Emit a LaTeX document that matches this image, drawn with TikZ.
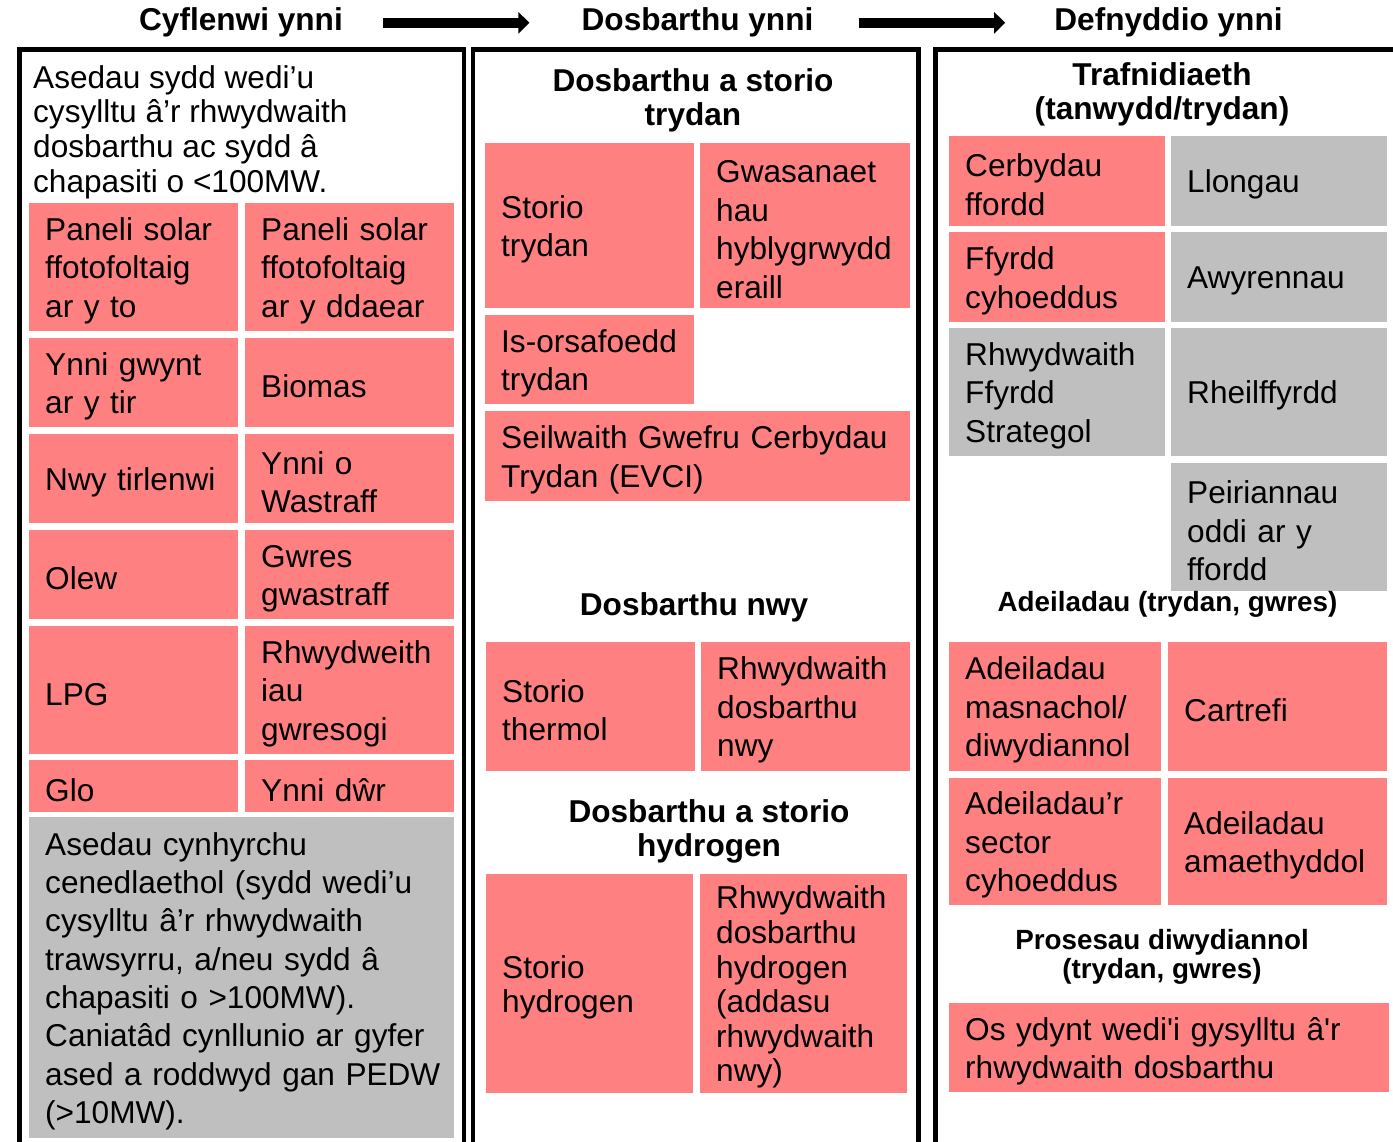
\documentclass[tikz,border=0pt]{standalone}
\usepackage{fontspec}
\setmainfont{Liberation Sans}
\usetikzlibrary{arrows.meta}
\definecolor{pinkc}{RGB}{255,128,128}
\definecolor{grayc}{RGB}{191,191,191}
\newcommand\cellfont{\fontsize{31.6}{38.5}\selectfont}
\newcommand\cellfontb{\fontsize{31.6}{34.6}\selectfont}
\newcommand\introfont{\fontsize{31.6}{34.7}\selectfont}
\newcommand\titlefont{\fontsize{31.6}{34.5}\selectfont\bfseries}
\newcommand\headfont{\fontsize{31.6}{34.5}\selectfont\bfseries}
\newcommand\smallhead{\fontsize{27.8}{29.5}\selectfont\bfseries}
\tikzset{
  sz/.code 2 args={\pgfmathsetmacro\cellw{#1-32}\pgfkeysalso{minimum width=#1pt, minimum height=#2pt, text width=\cellw pt}},
  cell/.style={anchor=north west, inner xsep=16pt, inner ysep=0pt, align=left, font=\cellfont,
    execute at begin node={\rule{0pt}{30pt}}},
  pinkcell/.style={cell, fill=pinkc},
  graycell/.style={cell, fill=grayc},
  title/.style={anchor=base, inner sep=0pt, font=\titlefont},
  heading/.style={anchor=north, inner sep=0pt, align=center, font=\headfont},
  subhead/.style={anchor=north, inner sep=0pt, align=center, font=\smallhead},
  panel/.style={line width=4.5pt, line join=miter, draw=black},
  bigarrow/.style={line width=10pt, -{Triangle[length=11pt,width=21pt]}}
}
\begin{document}
\begin{tikzpicture}[x=1pt,y=-1pt]
\useasboundingbox[fill=white] (0,0) rectangle (1393,1142);

% titles and arrows
\node[title] (t1) at (241,31) {Cyflenwi ynni};
\node[title] (t2) at (697.5,31) {Dosbarthu ynni};
\node[title] (t3) at (1168.5,31) {Defnyddio ynni};
\draw[bigarrow, shorten <=40pt, shorten >=52pt] (t1.east) -- (t2.west);
\draw[bigarrow, shorten <=45pt, shorten >=49pt] (t2.east) -- (t3.west);

% panels
\draw[panel] (19.5,1160) -- (19.5,49.5) -- (464,49.5) -- (464,1160);
\draw[panel] (473,1160) -- (473,49.5) -- (918.5,49.5) -- (918.5,1160);
\draw[panel] (935.5,1160) -- (935.5,49.5) -- (1400,49.5);

% ---------- left panel ----------
\node[anchor=north west, inner sep=0pt, align=left, font=\introfont] (intro) at (33,65)
  {Asedau sydd wedi’u\\cysylltu â’r rhwydwaith\\dosbarthu ac sydd â\\chapasiti o <100MW.};
\node[pinkcell, sz={209}{128}] (pv1) at (29,203) {Paneli solar\\ffotofoltaig\\ar y to};
\node[pinkcell, sz={209}{128}] (pv2) at (245,203) {Paneli solar\\ffotofoltaig\\ar y ddaear};
\node[pinkcell, sz={209}{89}] (gwy) at (29,338) {Ynni gwynt\\ar y tir};
\node[pinkcell, sz={209}{89}] (bio) at (245,338) {Biomas};
\node[pinkcell, sz={209}{89}] (nwy) at (29,434) {Nwy tirlenwi};
\node[pinkcell, sz={209}{89}] (wast) at (245,434) {Ynni o\\Wastraff};
\node[pinkcell, sz={209}{89}] (olew) at (29,530) {Olew};
\node[pinkcell, sz={209}{89}] (gwres) at (245,530) {Gwres\\gwastraff};
\node[pinkcell, sz={209}{128}] (lpg) at (29,626) {LPG};
\node[pinkcell, sz={209}{128}] (rhwy) at (245,626) {Rhwydweith\\iau\\gwresogi};
\node[pinkcell, sz={209}{52}] (glo) at (29,760) {Glo};
\node[pinkcell, sz={209}{52}] (dwr) at (245,760) {Ynni dŵr};
\node[graycell, sz={425}{321}, font=\fontsize{31.6}{38.3}\selectfont] (nat) at (29,817)
  {Asedau cynhyrchu\\cenedlaethol (sydd wedi’u\\cysylltu â’r rhwydwaith\\trawsyrru, a/neu sydd â\\chapasiti o >100MW).\\\mbox{Caniatâd cynllunio ar gyfer}\\\mbox{ased a roddwyd gan PEDW}\\(>10MW).};

% ---------- middle panel ----------
\node[heading] (hel) at (693,68) {Dosbarthu a storio\\trydan};
\node[pinkcell, sz={209}{165}] (stt) at (485,143) {Storio\\trydan};
\node[pinkcell, sz={210}{165}] (gwas) at (700,143) {Gwasanaet\\hau\\\mbox{hyblygrwydd}\\eraill};
\node[pinkcell, sz={209}{89}] (isors) at (485,315) {Is-orsafoedd\\trydan};
\node[pinkcell, sz={425}{90}] (evci) at (485,411) {\mbox{Seilwaith Gwefru Cerbydau}\\Trydan (EVCI)};
\node[heading] (hnwy) at (694,592) {Dosbarthu nwy};
\node[pinkcell, sz={209}{129}] (sth) at (486,642) {Storio\\thermol};
\node[pinkcell, sz={209}{129}] (rdn) at (701,642) {Rhwydwaith\\dosbarthu\\nwy};
\node[heading] (hhyd) at (709,799) {Dosbarthu a storio\\hydrogen};
\node[pinkcell, sz={207}{219}, font=\cellfontb] (sthy) at (486,874) {Storio\\hydrogen};
\node[pinkcell, sz={207}{219}, font=\cellfontb] (rdh) at (700,874) {Rhwydwaith\\dosbarthu\\hydrogen\\(addasu\\rhwydwaith\\nwy)};

% ---------- right panel ----------
\node[heading] (htraf) at (1162,62) {Trafnidiaeth\\(tanwydd/trydan)};
\node[pinkcell, sz={216}{90}] (cerb) at (949,136) {Cerbydau\\ffordd};
\node[graycell, sz={216}{90}] (llong) at (1171,136) {Llongau};
\node[pinkcell, sz={216}{90}] (ffyrdd) at (949,232) {Ffyrdd\\cyhoeddus};
\node[graycell, sz={216}{90}] (awyr) at (1171,232) {Awyrennau};
\node[graycell, sz={216}{128}] (rhff) at (949,328) {Rhwydwaith\\Ffyrdd\\Strategol};
\node[graycell, sz={216}{128}] (rheil) at (1171,328) {Rheilffyrdd};
\node[graycell, sz={216}{128}] (peir) at (1171,463) {Peiriannau\\oddi ar y\\ffordd};
\node[subhead] (hadeil) at (1167.5,591) {Adeiladau (trydan, gwres)};
\node[pinkcell, sz={212}{129}] (adm) at (949,642) {Adeiladau\\masnachol/\\diwydiannol};
\node[pinkcell, sz={219}{129}] (cart) at (1168,642) {Cartrefi};
\node[pinkcell, sz={212}{127}] (adsc) at (949,778) {Adeiladau’r\\sector\\cyhoeddus};
\node[pinkcell, sz={219}{127}] (adam) at (1168,778) {Adeiladau\\amaethyddol};
\node[subhead] (hpros) at (1162,929) {Prosesau diwydiannol\\(trydan, gwres)};
\node[pinkcell, sz={440}{89}] (osyd) at (949,1003) {Os ydynt wedi\textquotesingle i gysylltu â\textquotesingle r\\rhwydwaith dosbarthu};
\end{tikzpicture}
\end{document}
